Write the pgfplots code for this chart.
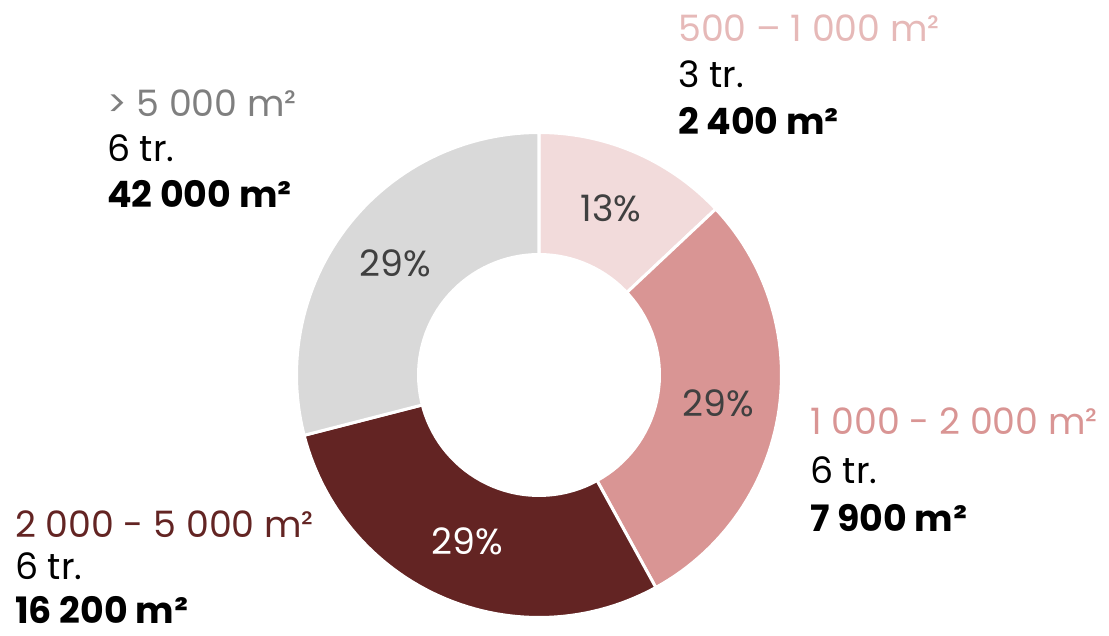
\documentclass[border=0pt]{standalone}
\usepackage{pgfplots}
\pgfplotsset{compat=1.18}
\usepackage{fontspec}
\setmainfont{Poppins}
\definecolor{sA}{HTML}{F2DBDB}
\definecolor{sB}{HTML}{D99594}
\definecolor{sC}{HTML}{632423}
\definecolor{sD}{HTML}{D9D9D9}
\definecolor{lA}{HTML}{E6B9B8}
\definecolor{lD}{HTML}{7F7F7F}
\definecolor{pct}{HTML}{404040}
\newcommand{\lab}{\fontsize{36.5}{44}\selectfont}
\begin{document}
\begin{tikzpicture}
\begin{axis}[width=1109bp,height=636bp,scale only axis,at={(0,0)},anchor=south west,
  xmin=0,xmax=1109,ymin=0,ymax=636,hide axis,clip=false]
% slices in percent: 13, 29, 29, 29 (cumulative bounds)
\addplot[fill=sA,draw=white,line width=3bp,domain=0:13,samples=40]
  ({539+242.5*sin(3.6*x)},{261+242.5*cos(3.6*x)}) -- (axis cs:539,261) -- cycle;
\addplot[fill=sB,draw=white,line width=3bp,domain=13:42,samples=60]
  ({539+242.5*sin(3.6*x)},{261+242.5*cos(3.6*x)}) -- (axis cs:539,261) -- cycle;
\addplot[fill=sC,draw=white,line width=3bp,domain=42:71,samples=60]
  ({539+242.5*sin(3.6*x)},{261+242.5*cos(3.6*x)}) -- (axis cs:539,261) -- cycle;
\addplot[fill=sD,draw=white,line width=3bp,domain=71:100,samples=60]
  ({539+242.5*sin(3.6*x)},{261+242.5*cos(3.6*x)}) -- (axis cs:539,261) -- cycle;
\addplot[fill=white,draw=none,domain=0:360,samples=120]
  ({539+122*sin(x)},{261+122*cos(x)}) -- cycle;
% percentage labels
\node[text=pct,font=\lab] at (axis cs:{539+181.5*sin(3.6*6.5)},{261+181.5*cos(3.6*6.5)}) {13\%};
\node[text=pct,font=\lab] at (axis cs:{539+181.5*sin(3.6*27.5)},{261+181.5*cos(3.6*27.5)}) {29\%};
\node[text=white,font=\lab] at (axis cs:{539+181.5*sin(3.6*56.5)},{261+181.5*cos(3.6*56.5)}) {29\%};
\node[text=pct,font=\lab] at (axis cs:{539+181.5*sin(3.6*85.5)},{261+181.5*cos(3.6*85.5)}) {29\%};
% category labels
\node[anchor=base west,inner sep=0pt,text=lA,font=\lab] at (axis cs:678,594) {500 – 1 000 m²};
\node[anchor=base west,inner sep=0pt,font=\lab] at (axis cs:678,548) {3 tr.};
\node[anchor=base west,inner sep=0pt,font=\lab\bfseries] at (axis cs:678,501) {2 400 m²};
\node[anchor=base west,inner sep=0pt,text=lD,font=\lab] at (axis cs:107,519) {> 5 000 m²};
\node[anchor=base west,inner sep=0pt,font=\lab] at (axis cs:107,474) {6 tr.};
\node[anchor=base west,inner sep=0pt,font=\lab\bfseries] at (axis cs:107,428) {42 000 m²};
\node[anchor=base west,inner sep=0pt,text=sB,font=\lab] at (axis cs:810,201) {1 000 - 2 000 m²};
\node[anchor=base west,inner sep=0pt,font=\lab] at (axis cs:810,152) {6 tr.};
\node[anchor=base west,inner sep=0pt,font=\lab\bfseries] at (axis cs:810,104) {7 900 m²};
\node[anchor=base west,inner sep=0pt,text=sC,font=\lab] at (axis cs:15,98) {2 000 - 5 000 m²};
\node[anchor=base west,inner sep=0pt,font=\lab] at (axis cs:15,56) {6 tr.};
\node[anchor=base west,inner sep=0pt,font=\lab\bfseries] at (axis cs:15,12) {16 200 m²};
\end{axis}
\pgfresetboundingbox
\path (0,0) rectangle (1109bp,636bp);
\end{tikzpicture}
\end{document}
